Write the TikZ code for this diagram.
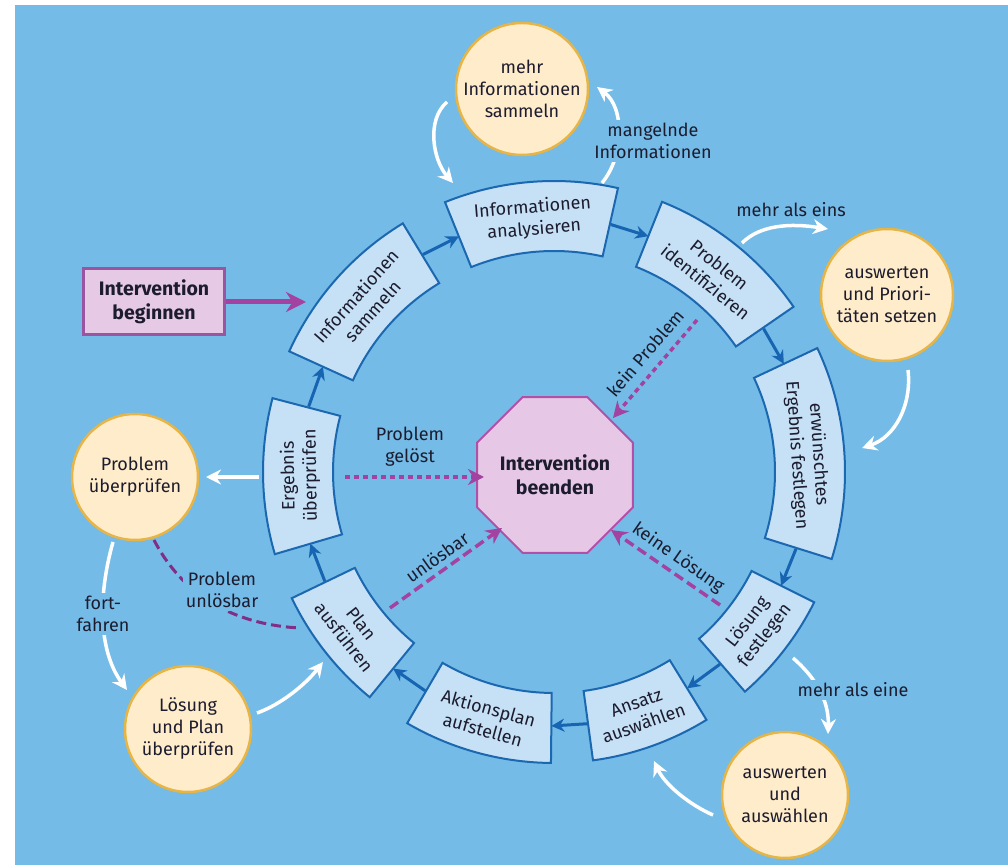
\documentclass[tikz,border=0pt]{standalone}
\usepackage{fontspec}
\setmainfont{Fira Sans}
\usetikzlibrary{arrows.meta,shapes.geometric,calc}
\definecolor{bg}{RGB}{116,187,231}
\definecolor{boxf}{RGB}{198,225,246}
\definecolor{boxb}{RGB}{28,104,176}
\definecolor{arrb}{RGB}{22,100,178}
\definecolor{circf}{RGB}{254,236,203}
\definecolor{circb}{RGB}{230,181,70}
\definecolor{purp}{RGB}{163,66,160}
\definecolor{purpd}{RGB}{128,46,134}
\definecolor{purpf}{RGB}{229,201,229}
\definecolor{purpb}{RGB}{155,84,160}
\definecolor{octf}{RGB}{230,200,230}
\definecolor{octb}{RGB}{176,80,168}
\definecolor{txt}{RGB}{28,28,46}
\newcommand\ringbox[2]{\draw[boxline] ($(C)+(#1:291)$) arc[start angle=#1,end angle=#2,radius=291] -- ($(C)+(#2:221)$) arc[start angle=#2,end angle=#1,radius=221] -- cycle;}
\begin{document}
\begin{tikzpicture}[x=1pt,y=1pt,
  boxline/.style={draw=boxb,line width=2pt,fill=boxf},
  boxtext/.style={align=center,text=txt,font=\fontsize{18}{22}\selectfont,inner sep=0pt},
  circ/.style={circle,draw=circb,line width=2.5pt,fill=circf,inner sep=0pt,align=center,text=txt,font=\fontsize{18}{22}\selectfont},
  bluearrow/.style={draw=arrb,line width=3pt,-{Stealth[length=13pt,width=13pt]}},
  whitearrow/.style={draw=white,line width=3.5pt,-{Stealth[length=15pt,width=15pt]}},
  purparrow/.style={draw=purp,line width=3.5pt,-{Stealth[length=16pt,width=16pt]}},
  dotline/.style={dash pattern=on 5pt off 4pt},
  dashline/.style={dash pattern=on 10pt off 5pt},
  lbl/.style={text=txt,align=center,font=\fontsize{18}{22}\selectfont,inner sep=1pt},
  lblbg/.style={lbl,fill=bg,inner sep=3pt}]
\useasboundingbox (0,0) rectangle (1008,865);
\fill[white] (0,0) rectangle (1008,865);
\fill[bg] (15,0) rectangle (1008,860);
\coordinate (C) at (554,393);

% ring boxes
\ringbox{121.3}{155.5}
\ringbox{77.3}{112}
\ringbox{34.6}{68.2}
\ringbox{-17.4}{25.2}
\ringbox{-49}{-26.6}
\ringbox{-82.3}{-58.4}
\ringbox{-120.3}{-90.6}
\ringbox{-154.3}{-129.3}
\ringbox{165.3}{196.4}

\node[boxtext,rotate=48.4] (b1) at ($(C)+(138.4:254)$) {Informationen\\sammeln};
\node[boxtext,rotate=4.65] (b2) at ($(C)+(94.65:254)$) {Informationen\\analysieren};
\node[boxtext,rotate=-38.6] (b3) at ($(C)+(51.4:254)$) {Problem\\identifizieren};
\node[boxtext,rotate=-86.1] (b4) at ($(C)+(3.9:254)$) {erwünschtes\\Ergebnis festlegen};
\node[boxtext,rotate=52.2] (b5) at ($(C)+(-37.8:256)$) {Lösung\\festlegen};
\node[boxtext,rotate=19.65] (b6) at ($(C)+(-70.35:256)$) {Ansatz\\auswählen};
\node[boxtext,rotate=-15.45] (b7) at ($(C)+(-105.45:256)$) {Aktionsplan\\aufstellen};
\node[boxtext,rotate=-51.8] (b8) at ($(C)+(-141.8:256)$) {Plan\\ausführen};
\node[boxtext,rotate=90.85] (b9) at ($(C)+(180.85:254)$) {Ergebnis\\überprüfen};

% blue ring arrows
\foreach \a/\b [count=\i] in {165.3/155.5,121.3/112,77.3/68.2,34.6/25.2,-17.4/-26.6,-49/-58.4,-82.3/-90.6,-120.3/-129.3,-154.3/-163.6}{
  \coordinate (gs\i) at ($(C)+(\a:254)$);
  \coordinate (ge\i) at ($(C)+(\b:254)$);
  \draw[bluearrow,shorten <=1pt] (gs\i) -- (ge\i);
}

% circles
\node[circ,minimum size=132pt] (c1) at (522,776) {mehr\\Informationen\\sammeln};
\node[circ,minimum size=132pt] (c2) at (887,570) {auswerten\\und Priori-\\täten setzen};
\node[circ,minimum size=126pt] (c3) at (135,388) {Problem\\überprüfen};
\node[circ,minimum size=126pt] (c4) at (188,136) {Lösung\\und Plan\\überprüfen};
\node[circ,minimum size=126pt] (c5) at (785,70) {auswerten\\und\\auswählen};

% start box and end octagon
\node[draw=purpb,fill=purpf,line width=3pt,minimum width=141pt,minimum height=66pt,align=center,text=txt,font=\fontsize{19.5}{24}\selectfont\bfseries] (beg) at (154,563) {Intervention\\beginnen};
\coordinate (begend) at (306,563);
\draw[draw=purp,line width=5pt,-{Stealth[length=20pt,width=20pt]}] (beg.east) -- (begend);

\node[regular polygon,regular polygon sides=8,minimum size=144pt,inner sep=0pt,draw=octb,fill=octf,line width=2pt,align=center,text=txt,font=\fontsize{19.5}{24}\selectfont\bfseries] (end) at (555,390) {Intervention\\beenden};

% white arrows
\coordinate (w1s) at (447,763); \coordinate (w1e) at (453,682);
\draw[whitearrow] (w1s) .. controls (426,745) and (433,705) .. (w1e);

\coordinate (w2s) at (602,682); \coordinate (w2e) at (597,778);
\draw[whitearrow] (w2s) .. controls (625,710) and (624,758) .. (w2e);
\node[lblbg] (l2) at (653,724) {mangelnde\\Informationen};

\coordinate (w3s) at (742,622); \coordinate (w3e) at (828,636);
\draw[whitearrow] (w3s) .. controls (760,640) and (790,642) .. (w3e);
\node[lbl] (l3) at (791,655) {mehr als eins};

\coordinate (w4s) at (908,495); \coordinate (w4e) at (862,417);
\draw[whitearrow] (w4s) .. controls (912,460) and (895,428) .. (w4e);

\coordinate (w5s) at (259,388); \coordinate (w5e) at (206,388);
\draw[whitearrow] (w5s) -- (w5e);

\coordinate (w6s) at (113,323); \coordinate (w6e) at (127,175);
\draw[whitearrow] (w6s) .. controls (98,270) and (98,215) .. (w6e);
\node[lblbg] (l6) at (103,251) {fort-\\fahren};

\coordinate (w7s) at (257,152); \coordinate (w7e) at (323,203);
\draw[whitearrow] (w7s) .. controls (280,160) and (305,180) .. (w7e);

\coordinate (w8s) at (793,207); \coordinate (w8e) at (828,131);
\draw[whitearrow] (w8s) .. controls (815,188) and (829,165) .. (w8e);
\node[lblbg] (l8) at (853,175) {mehr als eine};

\coordinate (w9s) at (713,50); \coordinate (w9e) at (654,104);
\draw[whitearrow] (w9s) .. controls (690,60) and (665,80) .. (w9e);

% purple dashed connectors
\coordinate (p1s) at (697,545); \coordinate (p1e) at (613,447);
\draw[purparrow,dotline] (p1s) -- (p1e);
\node[lbl,rotate=49.4] (l9) at (645,512) {kein Problem};

\coordinate (p2s) at (720,260); \coordinate (p2e) at (611,335);
\draw[purparrow,dashline] (p2s) -- (p2e);
\node[lbl,rotate=-34.8] (l10) at (678,307) {keine Lösung};

\coordinate (p3s) at (345,388); \coordinate (p3e) at (484,388);
\draw[purparrow,dotline] (p3s) -- (p3e);
\node[lbl] (l11) at (410,418) {Problem\\gelöst};

\coordinate (p4s) at (390,257); \coordinate (p4e) at (502,337);
\draw[purparrow,dashline] (p4s) -- (p4e);
\node[lbl,rotate=35.5] (l12) at (437,308) {unlösbar};

\coordinate (p5s) at (154,325); \coordinate (p5e) at (300,237);
\draw[draw=purpd,line width=3pt,dashline] (p5s) .. controls (185,265) and (240,240) .. (p5e);
\node[lblbg] (l13) at (222,275) {Problem\\unlösbar};
\end{tikzpicture}
\end{document}
